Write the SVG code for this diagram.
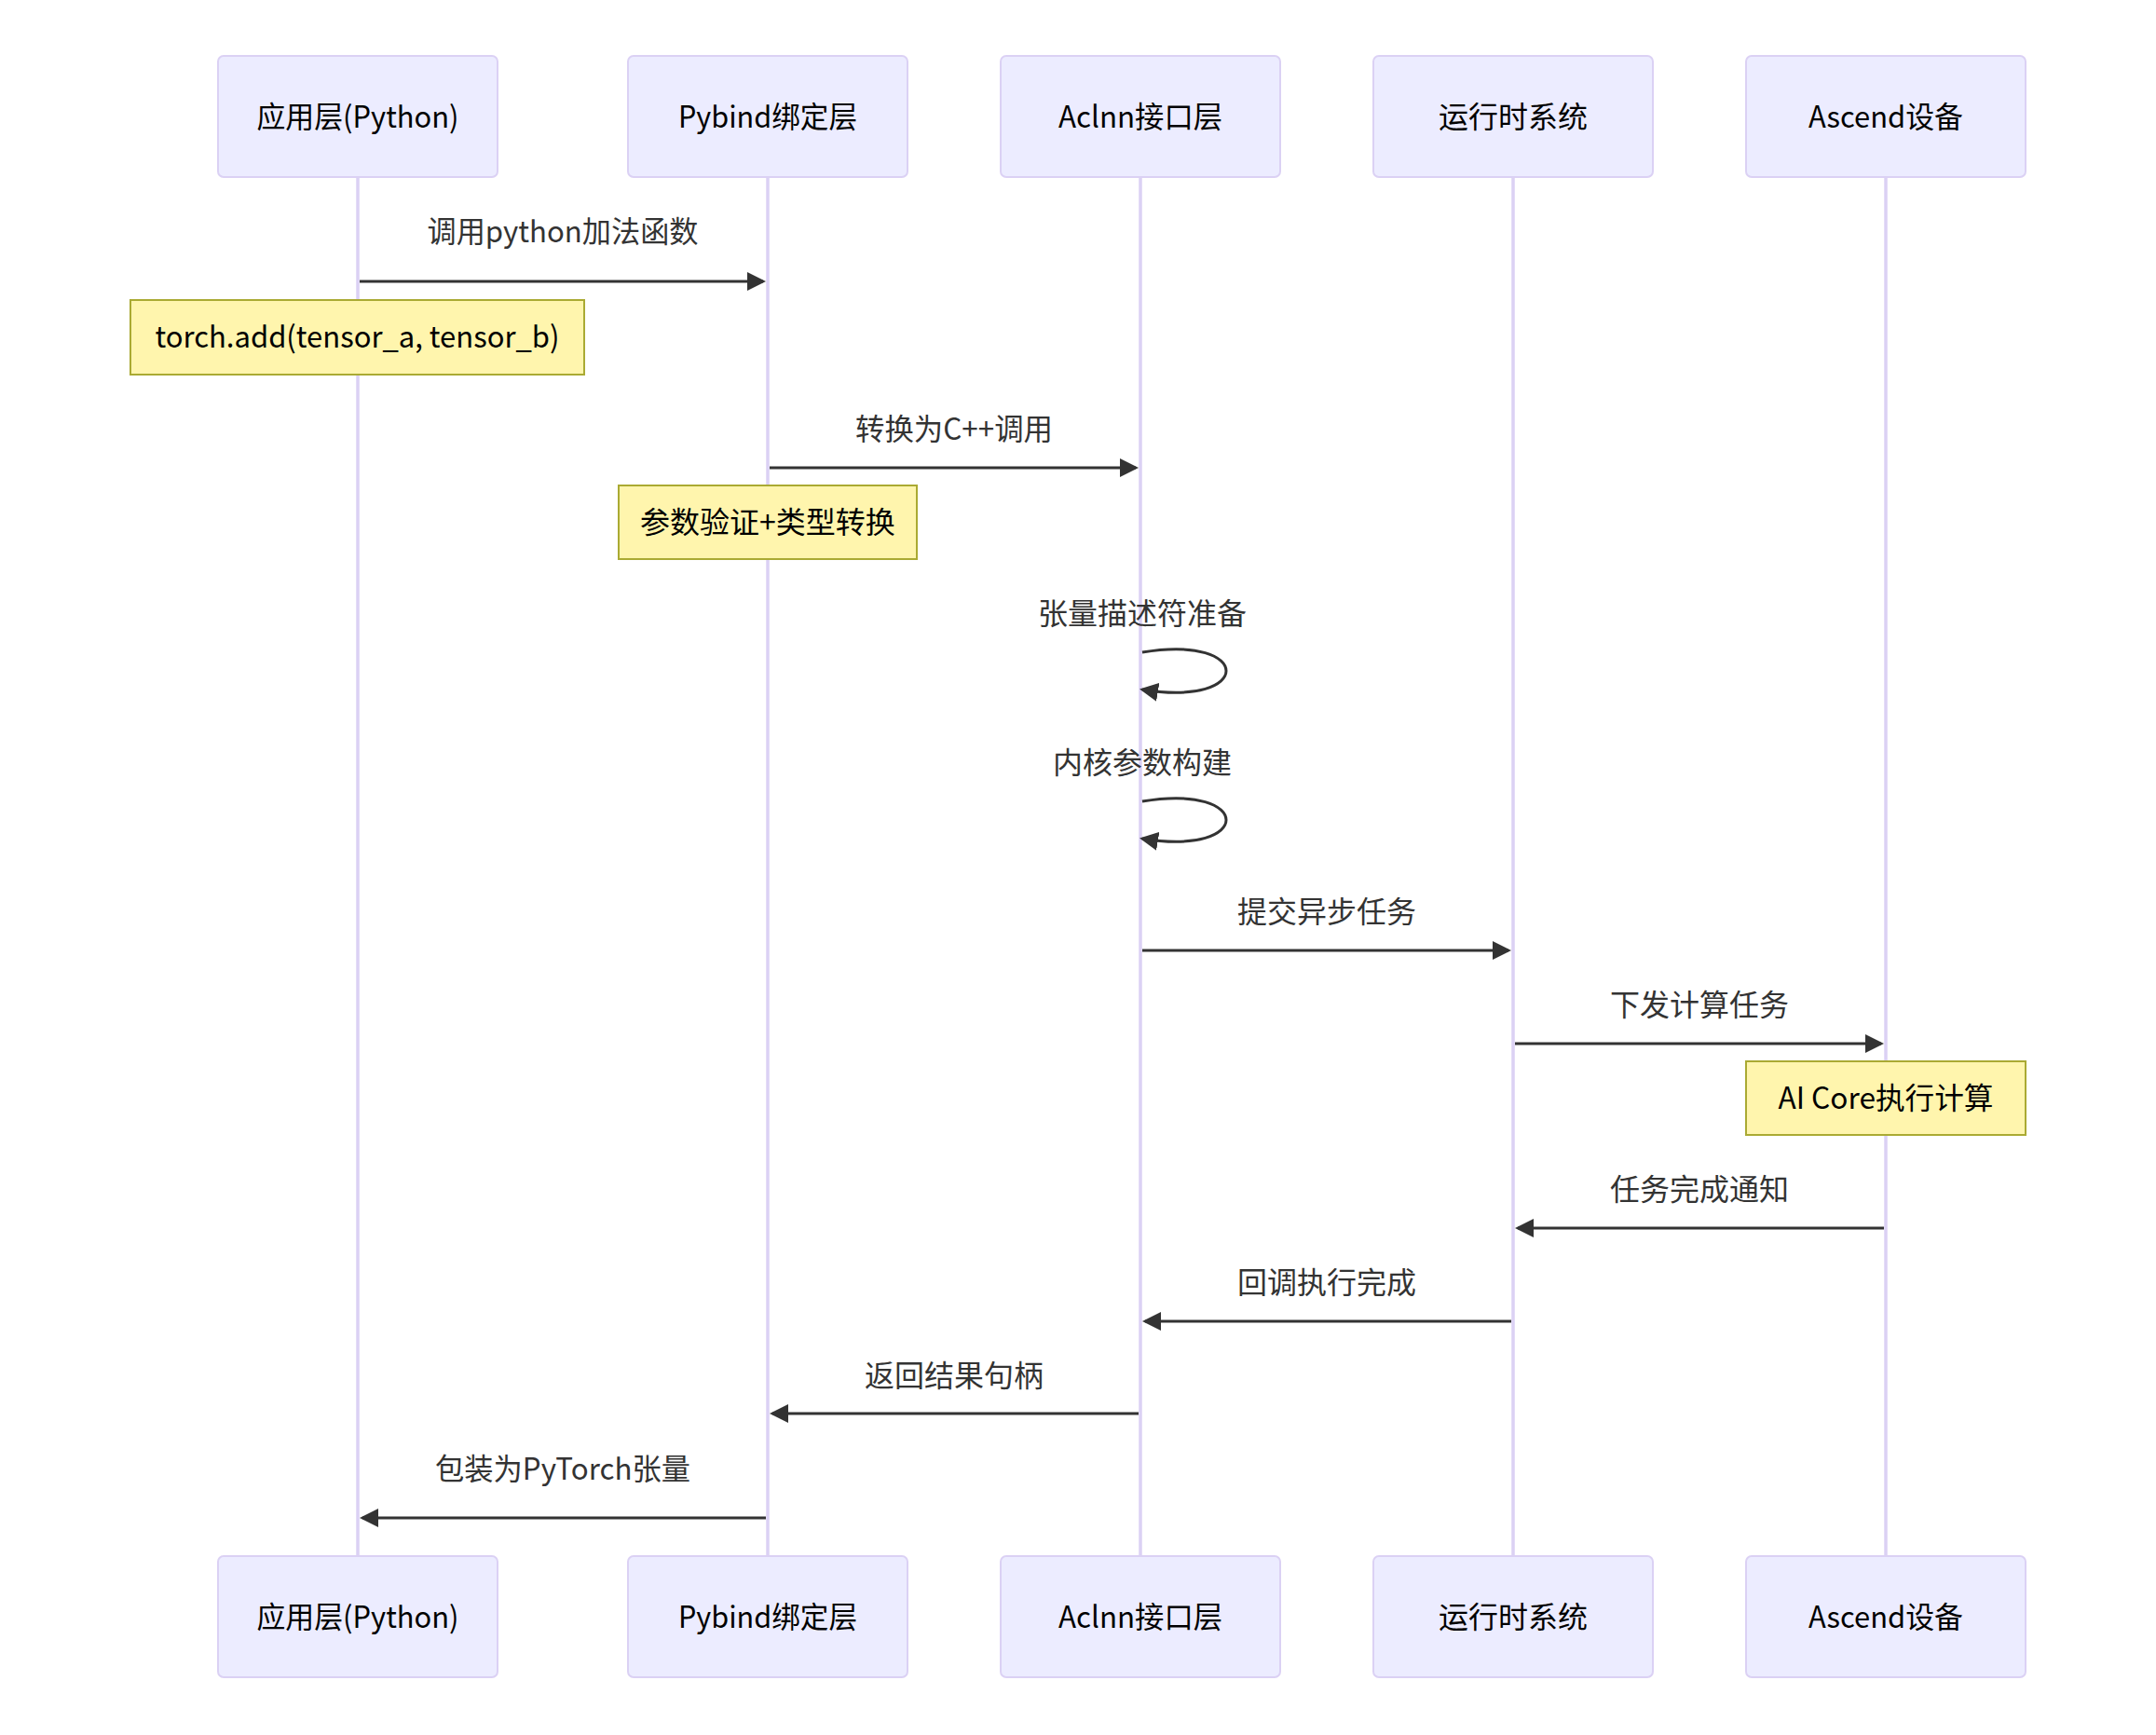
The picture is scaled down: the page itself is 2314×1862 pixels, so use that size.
<svg xmlns="http://www.w3.org/2000/svg" width="2314" height="1862" viewBox="0 0 2314 1862">
<style>
.actor rect{fill:#ECECFF;stroke:#DBD1F4;stroke-width:2}
.actor text{font-family:"Noto Sans CJK SC","Noto Sans",sans-serif;font-size:32px;fill:#000;text-anchor:middle}
.lifeline{stroke:#DBD1F4;stroke-width:3.5}
.note rect{fill:#FFF5AD;stroke:#AAAA33;stroke-width:2}
.note text{font-family:"Noto Sans CJK SC","Noto Sans",sans-serif;font-size:32px;fill:#000;text-anchor:middle}
.msg line,.msg path{stroke:#333;stroke-width:3;fill:none;marker-end:url(#arrow)}
.label{font-family:"Noto Sans CJK SC","Noto Sans",sans-serif;font-size:32px;fill:#333;text-anchor:middle}
</style>
<defs>
<marker id="arrow" viewBox="0 0 10 10" refX="8.5" refY="5" markerWidth="20" markerHeight="20" markerUnits="userSpaceOnUse" orient="auto">
<path d="M0,0 L10,5 L0,10 z" fill="#333"/>
</marker>
</defs>
<rect width="2314" height="1862" fill="#fff"/>
<g id="lifelines">
<line class="lifeline" x1="384" y1="190" x2="384" y2="1670"/>
<line class="lifeline" x1="824" y1="190" x2="824" y2="1670"/>
<line class="lifeline" x1="1224" y1="190" x2="1224" y2="1670"/>
<line class="lifeline" x1="1624" y1="190" x2="1624" y2="1670"/>
<line class="lifeline" x1="2024" y1="190" x2="2024" y2="1670"/>
</g>
<g id="actor-app-top" class="actor"><rect x="234" y="60" width="300" height="130" rx="6"/><text x="384" y="137" textLength="217" lengthAdjust="spacingAndGlyphs">应用层(Python)</text></g>
<g id="actor-pybind-top" class="actor"><rect x="674" y="60" width="300" height="130" rx="6"/><text x="824" y="137" textLength="192" lengthAdjust="spacingAndGlyphs">Pybind绑定层</text></g>
<g id="actor-aclnn-top" class="actor"><rect x="1074" y="60" width="300" height="130" rx="6"/><text x="1224" y="137" textLength="176" lengthAdjust="spacingAndGlyphs">Aclnn接口层</text></g>
<g id="actor-runtime-top" class="actor"><rect x="1474" y="60" width="300" height="130" rx="6"/><text x="1624" y="137">运行时系统</text></g>
<g id="actor-ascend-top" class="actor"><rect x="1874" y="60" width="300" height="130" rx="6"/><text x="2024" y="137" textLength="166" lengthAdjust="spacingAndGlyphs">Ascend设备</text></g>
<g id="actor-app-bottom" class="actor"><rect x="234" y="1670" width="300" height="130" rx="6"/><text x="384" y="1747" textLength="217" lengthAdjust="spacingAndGlyphs">应用层(Python)</text></g>
<g id="actor-pybind-bottom" class="actor"><rect x="674" y="1670" width="300" height="130" rx="6"/><text x="824" y="1747" textLength="192" lengthAdjust="spacingAndGlyphs">Pybind绑定层</text></g>
<g id="actor-aclnn-bottom" class="actor"><rect x="1074" y="1670" width="300" height="130" rx="6"/><text x="1224" y="1747" textLength="176" lengthAdjust="spacingAndGlyphs">Aclnn接口层</text></g>
<g id="actor-runtime-bottom" class="actor"><rect x="1474" y="1670" width="300" height="130" rx="6"/><text x="1624" y="1747">运行时系统</text></g>
<g id="actor-ascend-bottom" class="actor"><rect x="1874" y="1670" width="300" height="130" rx="6"/><text x="2024" y="1747" textLength="166" lengthAdjust="spacingAndGlyphs">Ascend设备</text></g>
<g id="connectors" class="msg">
<line x1="386" y1="302" x2="819" y2="302"/>
<line x1="826" y1="502" x2="1219" y2="502"/>
<path d="M1226,700 C1346,680 1346,760 1226,740"/>
<path d="M1226,860 C1346,840 1346,920 1226,900"/>
<line x1="1226" y1="1020" x2="1619" y2="1020"/>
<line x1="1626" y1="1120" x2="2019" y2="1120"/>
<line x1="2022" y1="1318" x2="1629" y2="1318"/>
<line x1="1622" y1="1418" x2="1229" y2="1418"/>
<line x1="1222" y1="1517" x2="829" y2="1517"/>
<line x1="822" y1="1629" x2="389" y2="1629"/>
</g>
<g id="message-labels">
<text class="label" x="604" y="260" textLength="291" lengthAdjust="spacingAndGlyphs">调用python加法函数</text>
<text class="label" x="1024" y="472" textLength="212" lengthAdjust="spacingAndGlyphs">转换为C++调用</text>
<text class="label" x="1226" y="670">张量描述符准备</text>
<text class="label" x="1226" y="830">内核参数构建</text>
<text class="label" x="1424" y="990">提交异步任务</text>
<text class="label" x="1824" y="1090">下发计算任务</text>
<text class="label" x="1824" y="1288">任务完成通知</text>
<text class="label" x="1424" y="1388">回调执行完成</text>
<text class="label" x="1024" y="1488">返回结果句柄</text>
<text class="label" x="604" y="1588" textLength="274" lengthAdjust="spacingAndGlyphs">包装为PyTorch张量</text>
</g>
<g id="note-torch-add" class="note"><rect x="140" y="322" width="487" height="80"/><text x="383.5" y="373" textLength="434" lengthAdjust="spacingAndGlyphs">torch.add(tensor_a, tensor_b)</text></g>
<g id="note-param-check" class="note"><rect x="664" y="521" width="320" height="79"/><text x="824" y="572">参数验证+类型转换</text></g>
<g id="note-ai-core" class="note"><rect x="1874" y="1139" width="300" height="79"/><text x="2024" y="1190" textLength="231" lengthAdjust="spacingAndGlyphs">AI Core执行计算</text></g>
</svg>
